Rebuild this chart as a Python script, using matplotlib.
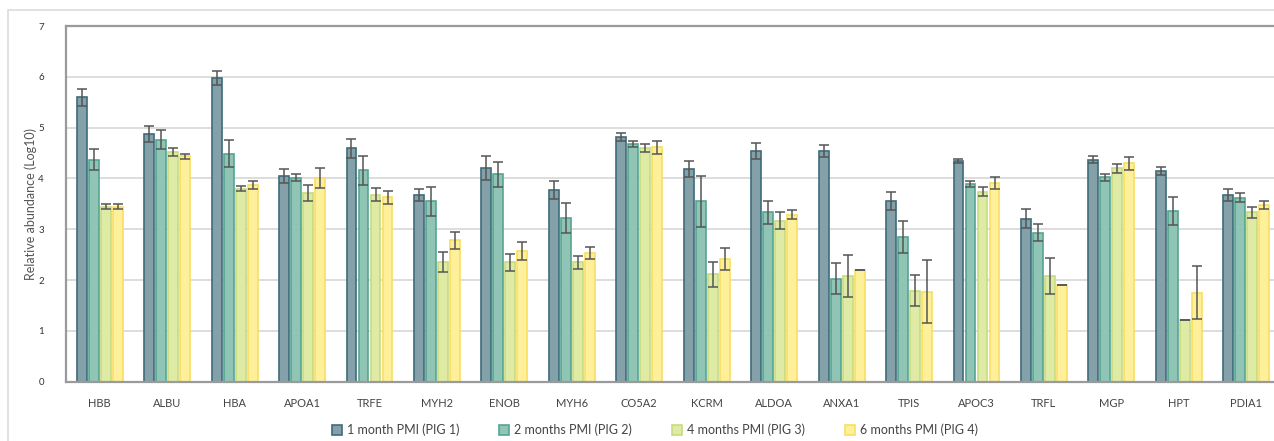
import matplotlib
matplotlib.use("Agg")
import matplotlib.pyplot as plt
import numpy as np
from matplotlib.patches import Rectangle

proteins = ["HBB", "ALBU", "HBA", "APOA1", "TRFE", "MYH2", "ENOB", "MYH6", "CO5A2",
            "KCRM", "ALDOA", "ANXA1", "TPIS", "APOC3", "TRFL", "MGP", "HPT", "PDIA1"]
series_names = ["1 month PMI (PIG 1)", "2 months PMI (PIG 2)",
                "4 months PMI (PIG 3)", "6 months PMI (PIG 4)"]

pig1 = [5.60, 4.88, 5.98, 4.05, 4.59, 3.68, 4.20, 3.77, 4.82,
        4.18, 4.54, 4.54, 3.55, 4.35, 3.21, 4.37, 4.15, 3.67]
pig2 = [4.37, 4.76, 4.49, 4.01, 4.16, 3.55, 4.08, 3.22, 4.68,
        3.55, 3.33, 2.03, 2.85, 3.89, 2.93, 4.02, 3.36, 3.62]
pig3 = [3.44, 4.52, 3.80, 3.72, 3.68, 2.35, 2.35, 2.35, 4.60,
        2.11, 3.17, 2.08, 1.79, 3.74, 2.08, 4.20, 1.22, 3.33]
pig4 = [3.44, 4.44, 3.87, 4.01, 3.63, 2.78, 2.57, 2.54, 4.61,
        2.42, 3.29, 2.20, 1.77, 3.91, 1.91, 4.30, 1.75, 3.48]

err1 = [0.17, 0.16, 0.14, 0.13, 0.19, 0.12, 0.24, 0.17, 0.08,
        0.16, 0.15, 0.11, 0.18, 0.04, 0.18, 0.07, 0.085, 0.115]
err2 = [0.20, 0.19, 0.26, 0.07, 0.28, 0.29, 0.24, 0.29, 0.055,
        0.50, 0.23, 0.31, 0.31, 0.055, 0.17, 0.07, 0.28, 0.085]
err3 = [0.05, 0.085, 0.05, 0.16, 0.13, 0.20, 0.17, 0.13, 0.07,
        0.25, 0.16, 0.42, 0.30, 0.085, 0.35, 0.09, 0.0, 0.10]
err4 = [0.05, 0.05, 0.07, 0.20, 0.13, 0.17, 0.18, 0.12, 0.12,
        0.22, 0.085, 0.0, 0.62, 0.11, 0.0, 0.13, 0.52, 0.085]

fills = ["#84a1aa", "#90c4b4", "#dfeba5", "#fef09b"]
edges = ["#3e6c79", "#55a591", "#c6dc82", "#f8df62"]

plt.rcParams['font.family'] = ['Lato', 'DejaVu Sans']

fig = plt.figure(figsize=(12.74, 4.41), dpi=100)
# light outer frame of the chart area
fig.patches.append(Rectangle((8 / 1274, -0.1), 1.2, 1.1 - 10 / 441,
                             transform=fig.transFigure, fill=False,
                             edgecolor="#dcdcdc", linewidth=1.2))

left = 66 / 1274
right = 1280 / 1274
ax = fig.add_axes([left, 1 - 381.7 / 441, right - left, (381.7 - 26) / 441])

x = np.arange(len(proteins))
step = 0.178
width = 0.148
values = [pig1, pig2, pig3, pig4]
errs = [err1, err2, err3, err4]
for i in range(4):
    pos = x + (i - 1.5) * step
    ax.bar(pos, values[i], width, color=fills[i], edgecolor=edges[i],
           linewidth=1.2, label=series_names[i], zorder=2)
    ax.errorbar(pos, values[i], yerr=errs[i], fmt="none", ecolor="#555555",
                elinewidth=1.1, capsize=3.5, capthick=1.1, zorder=3)

ax.set_xlim(-0.5, len(proteins) - 0.5)
ax.set_ylim(0, 7)
ax.set_yticks(range(8))
ax.set_xticks(x)
ax.set_xticklabels(proteins, fontsize=8, color="#444444")
ax.tick_params(axis="y", labelsize=7, colors="#333333", length=0, pad=16)
ax.tick_params(axis="x", length=0, pad=12)
ax.grid(axis="y", color="#dadada", linewidth=1.3, zorder=0)
ax.set_axisbelow(True)
for s in ["top", "left", "bottom"]:
    ax.spines[s].set_color("#9a9a9a")
    ax.spines[s].set_linewidth(1.6)
ax.spines["right"].set_visible(False)
ax.set_ylabel("Relative abundance (Log10)", fontsize=9, color="#555555", labelpad=1)

fig.legend(loc="center", bbox_to_anchor=(655 / 1274, 1 - 430 / 441), ncol=4,
           frameon=False, fontsize=9, handlelength=0.8, handleheight=0.8,
           columnspacing=3.2, handletextpad=0.4, labelcolor="#444444")

fig.savefig("out.png", dpi=100)
